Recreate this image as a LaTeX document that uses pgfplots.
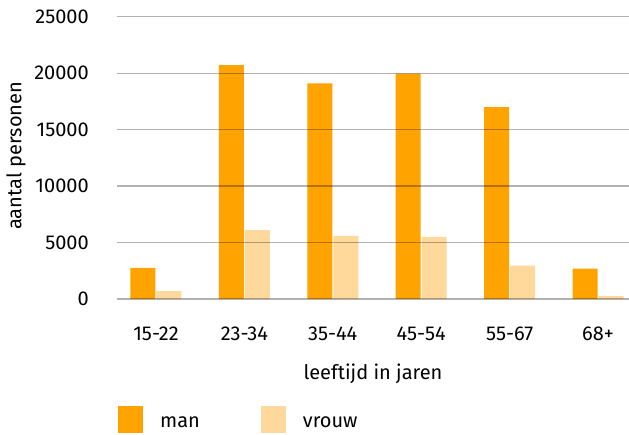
\documentclass[border=0pt]{standalone}
\usepackage{pgfplots}
\pgfplotsset{compat=1.18}
\usepackage{fontspec}
\setmainfont{Fira Sans}
\definecolor{man}{RGB}{255,163,0}
\definecolor{vrouw}{RGB}{255,217,155}
\begin{document}
\fontsize{20}{24}\selectfont
\begin{tikzpicture}
\path[use as bounding box] (0,0) rectangle (629pt,435pt);
\begin{axis}[
  at={(117pt,136pt)}, anchor=south west,
  scale only axis, width=512pt, height=282.3pt,
  ymin=0, ymax=25000, xmin=-0.441, xmax=5.35,
  ytick={0,5000,...,25000},
  scaled y ticks=false,
  xtick={0,...,5},
  xticklabels={15-22,23-34,35-44,45-54,55-67,68+},
  /pgf/number format/1000 sep={},
  /pgf/number format/assume math mode=true,
  axis line style={draw=none},
  major tick length=0pt,
  ymajorgrids,
  major grid style={draw=black, opacity=0.3, line width=1.3pt},
  axis on top,
  xticklabel style={anchor=base, inner sep=0pt, yshift=-41.7pt},
  yticklabel style={anchor=east, inner sep=0pt, xshift=-28pt},
  xlabel={leeftijd in jaren},
  xlabel style={at={(axis description cs:0.5,0)}, anchor=base, inner sep=0pt, yshift=-81pt},
  ylabel={aantal personen},
  ylabel style={at={(axis description cs:-0.1973,0.507)}, anchor=center, inner sep=0pt},
  legend columns=2,
  legend style={at={(axis description cs:0,0)}, anchor=north west,
    xshift=1pt, yshift=-107pt, draw=none, fill=none, inner sep=0pt,
    nodes={inner sep=0pt},
    /tikz/every odd column/.style={column sep=17pt},
    /tikz/every even column/.style={column sep=61pt}},
  legend image code/.code={\fill[#1] (0pt,-8.8pt) rectangle (25pt,17.8pt);},
]
\addplot[ybar, fill=man, draw=none, bar width=25pt, bar shift=-13pt]
  coordinates {(0,2750) (1,20700) (2,19100) (3,19950) (4,17000) (5,2700)};
\addplot[ybar, fill=vrouw, draw=none, bar width=25pt, bar shift=13pt]
  coordinates {(0,700) (1,6100) (2,5600) (3,5500) (4,2950) (5,250)};
\legend{man,vrouw}
\end{axis}
\end{tikzpicture}
\end{document}
